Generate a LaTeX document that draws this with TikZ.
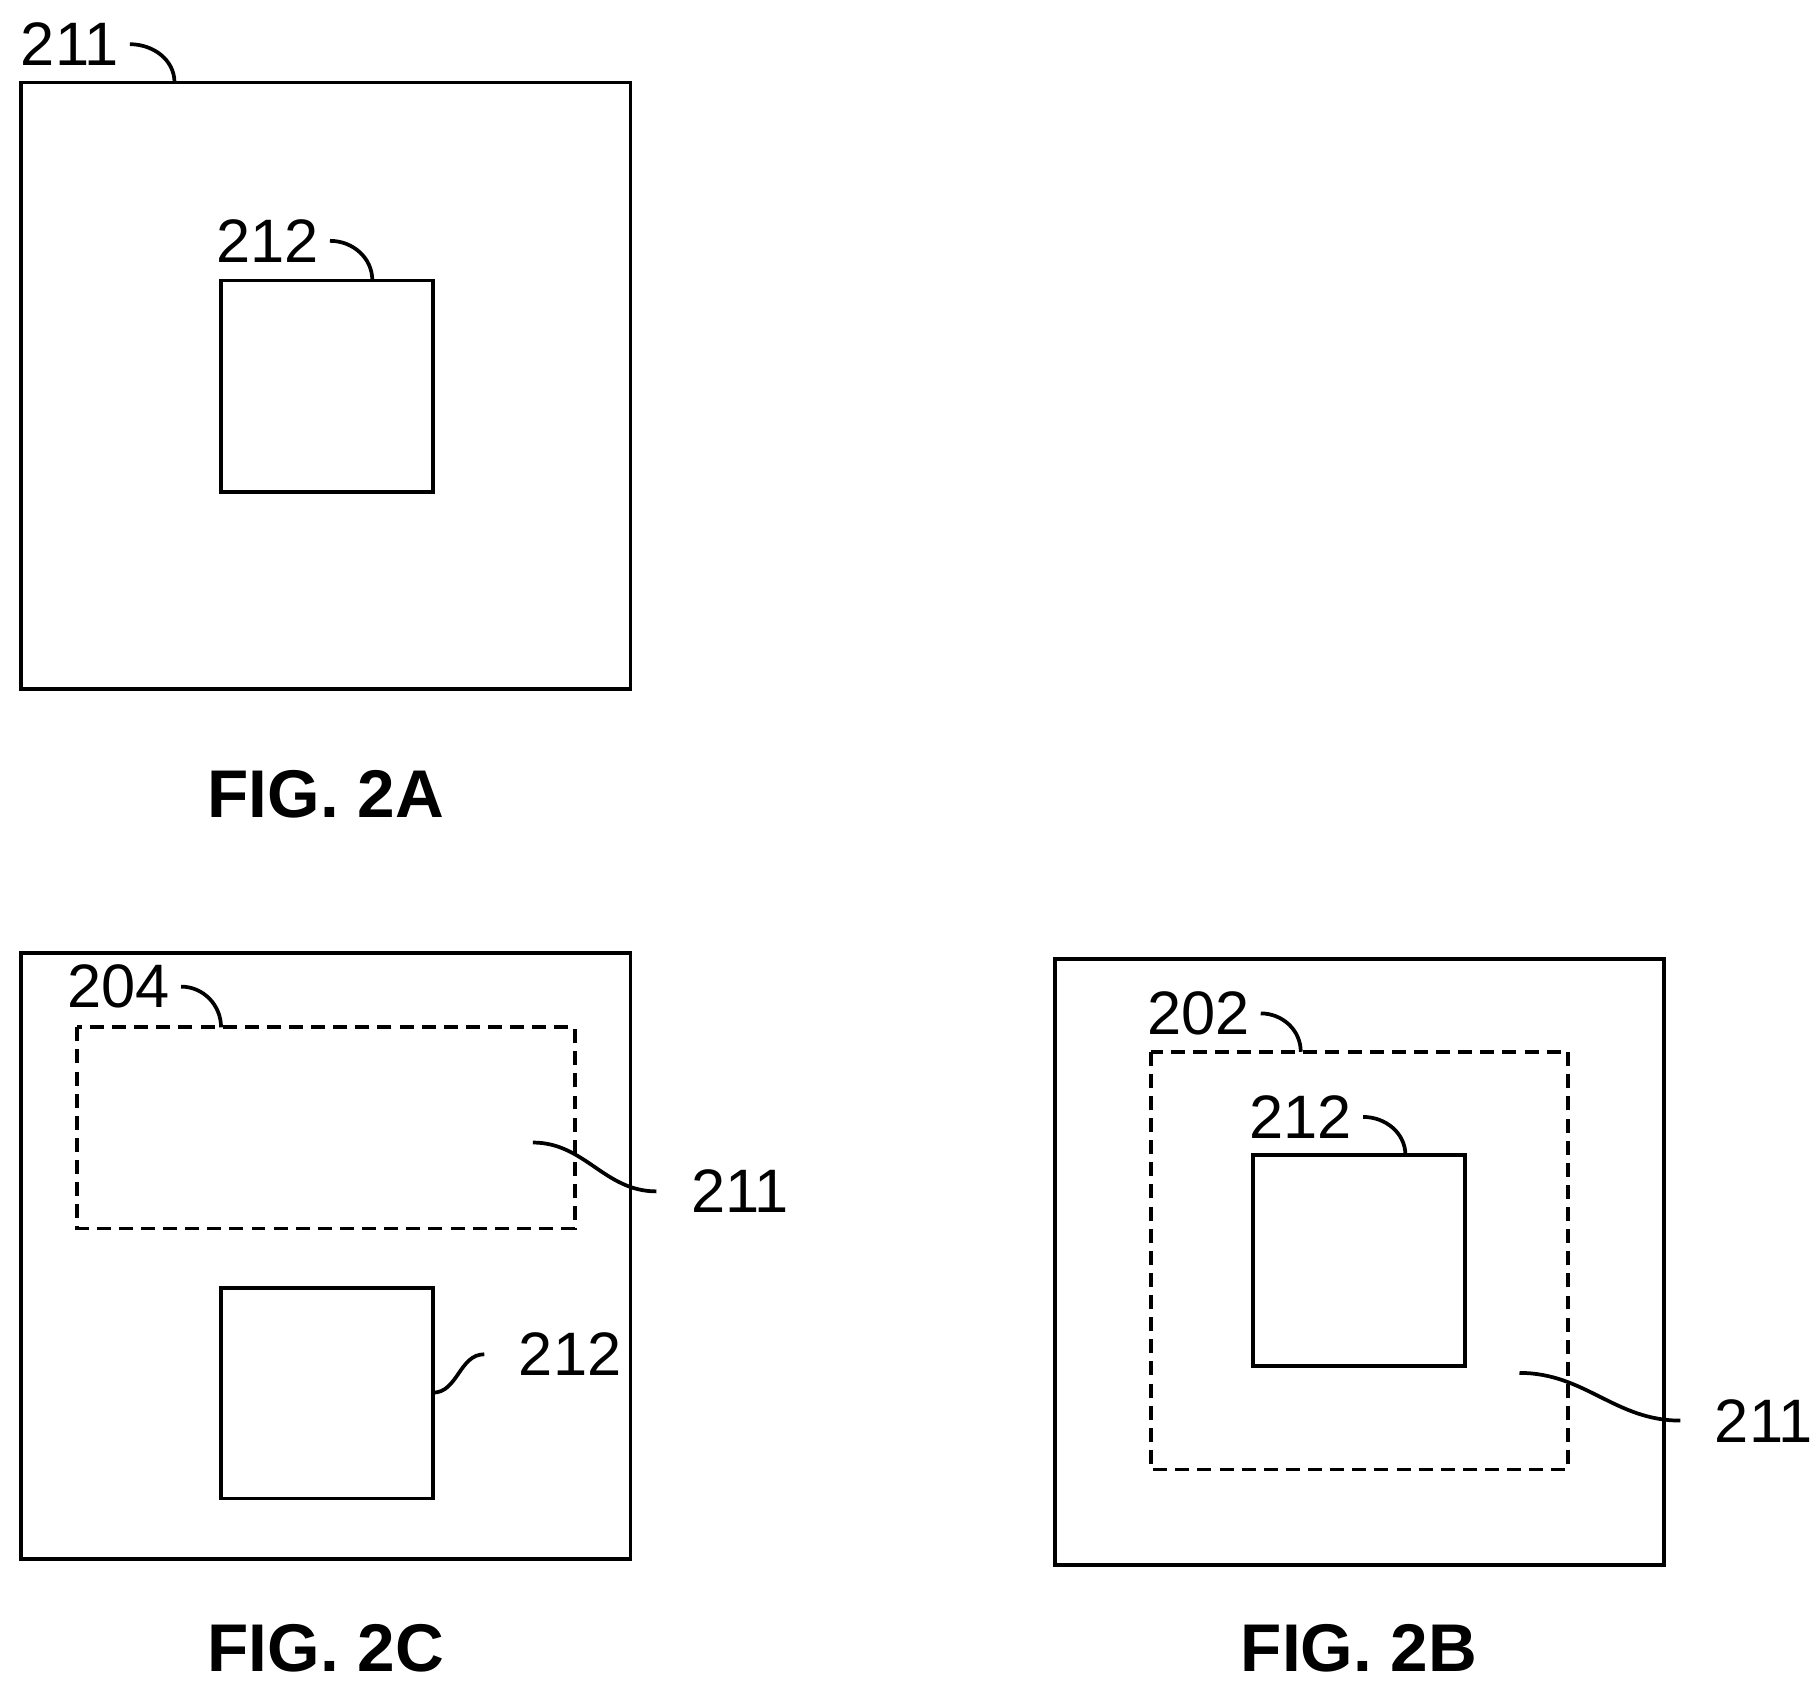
\documentclass[tikz,border=0pt]{standalone}
\usepackage{fontspec}
\setmainfont{Liberation Sans}
\begin{document}
\begin{tikzpicture}[x=0.01cm,y=-0.01cm,line width=0.032cm,
 lbl/.style={font=\fontsize{15}{15}\selectfont,inner sep=0pt},
 fig/.style={font=\bfseries\fontsize{16.5}{16.5}\selectfont,inner sep=0pt},
 dsh/.style={dash pattern=on 0.12cm off 0.07cm}]
\useasboundingbox (0,0) rectangle (1560,1448);
% FIG 2A
\draw (18,71) rectangle (542,592);
\draw (190,241) rectangle (372,423);
\node[lbl] (a211) at (60,38) {211};
\node[lbl] (a212) at (230,207) {212};
\coordinate (a1) at (150,71); \coordinate (a2) at (320,241);
\draw (a211.east) ++(8,0) to[out=0,in=90] (a1);
\draw (a212.east) ++(8,0) to[out=0,in=90] (a2);
\node[fig] (f2a) at (280,683) {FIG. 2A};
% FIG 2C
\draw (18,819) rectangle (542,1340);
\draw[dsh] (66,883) rectangle (494,1056);
\draw (190,1107) rectangle (372,1288);
\node[lbl] (c204) at (102,848) {204};
\node[lbl] (c211) at (636,1024) {211};
\node[lbl] (c212) at (490,1164) {212};
\coordinate (c1) at (190,883); \coordinate (c2) at (458,982); \coordinate (c3) at (372,1197);
\draw (c204.east) ++(8,0) to[out=0,in=90] (c1);
\draw (c2) to[out=0,in=180] ([xshift=-8]c211.west);
\draw (c3) to[out=0,in=180] ([xshift=-8]c212.west);
\node[fig] (f2c) at (280,1417) {FIG. 2C};
% FIG 2B
\draw (907,824) rectangle (1430,1345);
\draw[dsh] (989,904) rectangle (1348,1263);
\draw (1077,993) rectangle (1259,1174);
\node[lbl] (b202) at (1030,871) {202};
\node[lbl] (b212) at (1118,960) {212};
\node[lbl] (b211) at (1516,1221) {211};
\coordinate (b1) at (1118,904); \coordinate (b2) at (1208,993); \coordinate (b3) at (1306,1180);
\draw (b202.east) ++(8,0) to[out=0,in=90] (b1);
\draw (b212.east) ++(8,0) to[out=0,in=90] (b2);
\draw (b3) to[out=0,in=180] ([xshift=-8]b211.west);
\node[fig] (f2b) at (1168,1417) {FIG. 2B};
\end{tikzpicture}
\end{document}
